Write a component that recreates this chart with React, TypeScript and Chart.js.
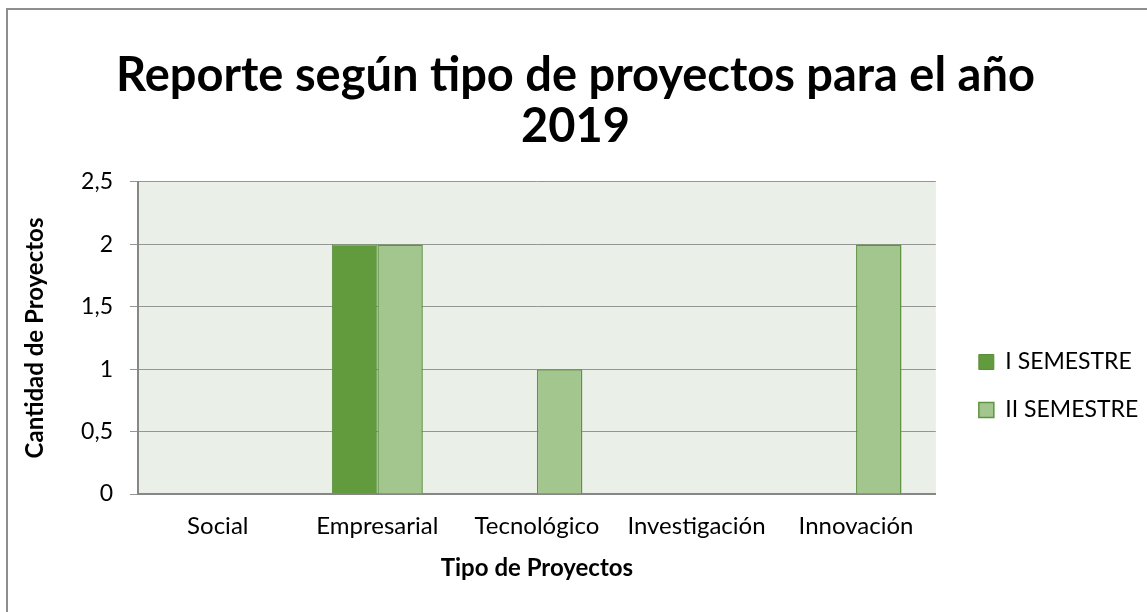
import React, { useEffect, useRef } from 'react';
import { Chart, registerables } from 'chart.js';

Chart.register(...registerables);

const categories = ['Social', 'Empresarial', 'Tecnológico', 'Investigación', 'Innovación'];
const seriesNames = ['I SEMESTRE', 'II SEMESTRE'];
const semesterI = [0, 2, 0, 0, 0];
const semesterII = [0, 2, 1, 0, 2];
const titleLines = ['Reporte según tipo de proyectos para el año', '2019'];
const yTitle = 'Cantidad de Proyectos';
const xTitle = 'Tipo de Proyectos';

const FONT = 'Lato, "Open Sans", sans-serif';

const framePlugin = {
  id: 'frame',
  beforeDraw(chart: any) {
    const { ctx, chartArea } = chart;
    ctx.save();
    ctx.fillStyle = '#ffffff';
    ctx.fillRect(0, 0, chart.width, chart.height);
    ctx.strokeStyle = '#8e8e8e';
    ctx.lineWidth = 2;
    ctx.beginPath();
    ctx.moveTo(7, chart.height);
    ctx.lineTo(7, 9);
    ctx.lineTo(chart.width, 9);
    ctx.stroke();
    ctx.fillStyle = '#EAEFE8';
    ctx.fillRect(chartArea.left, chartArea.top, chartArea.right - chartArea.left, chartArea.bottom - chartArea.top);
    ctx.restore();
  },
};

export default function App() {
  const ref = useRef<HTMLCanvasElement | null>(null);
  useEffect(() => {
    if (!ref.current) return;
    const chart = new Chart(ref.current, {
      type: 'bar',
      data: {
        labels: categories,
        datasets: [
          {
            label: seriesNames[0],
            data: semesterI,
            backgroundColor: '#629A3E',
            borderColor: '#5A8D3A',
            borderWidth: 1,
            yAxisID: 'y',
          },
          {
            label: seriesNames[1],
            data: semesterII,
            backgroundColor: '#A3C68F',
            borderColor: '#5E9341',
            borderWidth: 1.5,
            yAxisID: 'y',
          },
        ],
      },
      options: {
        animation: false,
        responsive: true,
        maintainAspectRatio: false,
        layout: { padding: { left: 8, right: 4, top: 30, bottom: 29 } },
        datasets: { bar: { categoryPercentage: 0.57, barPercentage: 1 } },
        plugins: {
          title: {
            display: true,
            text: titleLines,
            color: '#000',
            font: { family: FONT, size: 47, weight: 'bold', lineHeight: 1.085 },
            padding: { top: 20, bottom: 30 },
          },
          legend: {
            position: 'right',
            title: {
              display: true,
              text: ' ',
              font: { family: FONT, size: 10 },
              padding: { top: 0, bottom: 147 },
            },
            labels: {
              color: '#000',
              font: { family: FONT, size: 23 },
              boxWidth: 15,
              boxHeight: 15,
              padding: 25,
            },
          },
          tooltip: { enabled: false },
        },
        scales: {
          x: {
            grid: { display: false, drawTicks: false },
            border: { color: '#878787', width: 2 },
            ticks: { color: '#000', font: { family: FONT, size: 24 }, padding: 18 },
            title: {
              display: true,
              text: xTitle,
              color: '#000',
              font: { family: FONT, size: 24, weight: 'bold' },
              padding: { top: 12, bottom: 0 },
            },
            afterFit: (s: any) => {
              s.height = 89;
            },
          },
          y: {
            min: 0,
            max: 2.5,
            ticks: {
              stepSize: 0.5,
              color: '#000',
              font: { family: FONT, size: 23 },
              padding: 17,
              callback: (v: any) => String(v).replace('.', ','),
            },
            grid: { color: '#959595', tickLength: 8, lineWidth: 1 },
            border: { color: '#878787', width: 2 },
            title: {
              display: true,
              text: yTitle,
              color: '#000',
              font: { family: FONT, size: 24, weight: 'bold' },
              padding: { top: 13, bottom: 0 },
            },
            afterFit: (s: any) => {
              s.width = 130;
            },
          },
          gap: {
            position: 'right',
            display: true,
            grid: { display: false, drawTicks: false },
            border: { display: false },
            ticks: { display: false },
            afterFit: (s: any) => {
              s.width = 18;
            },
          },
        },
      },
      plugins: [framePlugin],
    });
    return () => chart.destroy();
  }, []);
  return (
    <div style={{ position: 'absolute', left: 0, top: 0, width: 1147, height: 612 }}>
      <canvas ref={ref} />
    </div>
  );
}
